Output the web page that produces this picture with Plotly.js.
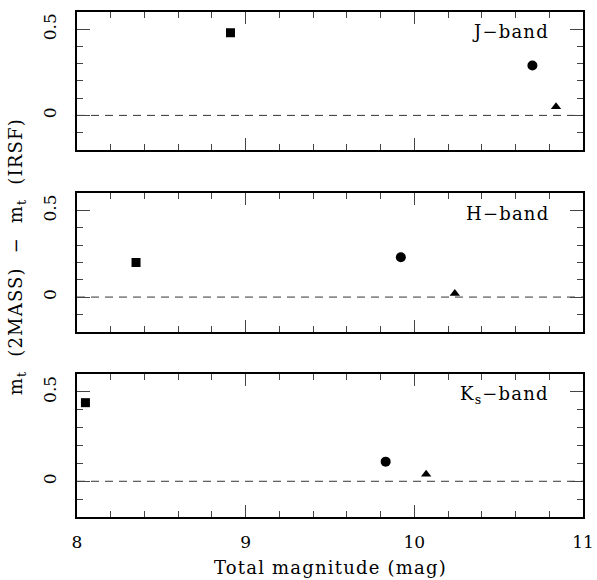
<!DOCTYPE html>
<html><head><meta charset="utf-8">
<script src="https://cdn.plot.ly/plotly-3.0.1.min.js"></script>
<style>body{margin:0;background:#fff}#c{width:597px;height:580px}
.annotation-text{letter-spacing:1.2px}</style>
</head><body><div id="c"></div>
<script>
const bands = ["J\u2212band", "H\u2212band", "K<sub>s</sub>\u2212band"];
const symbols = ["square", "circle", "triangle-up"];
const markerSizes = [9, 10, 9];
// x: total magnitude, y: m_t(2MASS) - m_t(IRSF); order: square, circle, triangle
const jX = [8.91, 10.70, 10.84];
const jY = [0.48, 0.29, 0.05];
const hX = [8.35, 9.92, 10.24];
const hY = [0.20, 0.23, 0.02];
const kX = [8.05, 9.83, 10.07];
const kY = [0.44, 0.11, 0.04];
const xTickVals = [8, 9, 10, 11];
const yTickVals = [0, 0.5];

const font = "DejaVu Serif, Liberation Serif, serif";
const panels = [[jX, jY], [hX, hY], [kX, kY]];
const domains = [[0.727, 1], [0.367, 0.641], [0, 0.283]];
const traces = [];
const layout = {
  width: 597, height: 580,
  margin: {l: 76.5, r: 14, t: 12, b: 62.7},
  paper_bgcolor: "#fff", plot_bgcolor: "#fff",
  showlegend: false,
  font: {family: font, color: "#000", size: 16},
  shapes: [], annotations: []
};
panels.forEach((p, i) => {
  const n = i === 0 ? "" : String(i + 1);
  for (let k = 0; k < p[0].length; k++) {
    traces.push({
      x: [p[0][k]], y: [p[1][k]], xaxis: "x" + n, yaxis: "y" + n,
      type: "scatter", mode: "markers",
      marker: {symbol: symbols[k], size: markerSizes[k], color: "#000"},
      hoverinfo: "skip"
    });
  }
  layout["xaxis" + n] = {
    anchor: "y" + n, domain: [0, 1], range: [8, 11],
    tickmode: "array", tickvals: xTickVals, ticks: "inside", ticklen: 12, tickwidth: 1,
    showticklabels: i === 2, ticklabelstandoff: 9,
    tickfont: {family: font, size: 17, color: "#000"},
    minor: {dtick: 0.2, ticks: "inside", ticklen: 6, tickwidth: 1, showgrid: false},
    showline: true, linewidth: 2, linecolor: "#000", mirror: "ticks",
    showgrid: false, zeroline: false
  };
  layout["yaxis" + n] = {
    anchor: "x" + n, domain: domains[i], range: [-0.2, 0.6],
    tickmode: "array", tickvals: yTickVals, ticktext: ["0", "0.5"],
    ticks: "inside", ticklen: 13, tickwidth: 1, tickangle: -90,
    ticklabelstandoff: 12,
    tickfont: {family: font, size: 17, color: "#000"},
    minor: {dtick: 0.1, ticks: "inside", ticklen: 6, tickwidth: 1, showgrid: false},
    showline: true, linewidth: 2, linecolor: "#000", mirror: "ticks",
    showgrid: false, zeroline: false
  };
  layout.shapes.push({
    type: "line", xref: "x" + n, yref: "y" + n, x0: 8, x1: 11, y0: 0, y1: 0,
    line: {color: "#333", width: 1, dash: "8px,6px"}, layer: "below"
  });
  layout.annotations.push({
    text: bands[i], xref: "x" + n + " domain", yref: "y" + n + " domain",
    x: 0.936, y: 0.855, xanchor: "right", yanchor: "middle", showarrow: false,
    font: {family: font, size: 18, color: "#000"}
  });
});
layout.annotations.push({
  text: "Total magnitude (mag)", xref: "paper", yref: "paper",
  x: 0.5, y: -0.124, xanchor: "center", yanchor: "bottom", showarrow: false,
  font: {family: font, size: 18, color: "#000"}
});
layout.annotations.push({
  text: "m<sub>t</sub>  (2MASS)  \u2212  m<sub>t</sub>  (IRSF)", xref: "paper", yref: "paper",
  x: -0.118, y: 0.515, xanchor: "center", yanchor: "middle", textangle: -90, showarrow: false,
  font: {family: font, size: 18, color: "#000"}
});
Plotly.newPlot("c", traces, layout, {staticPlot: true});
</script></body></html>
